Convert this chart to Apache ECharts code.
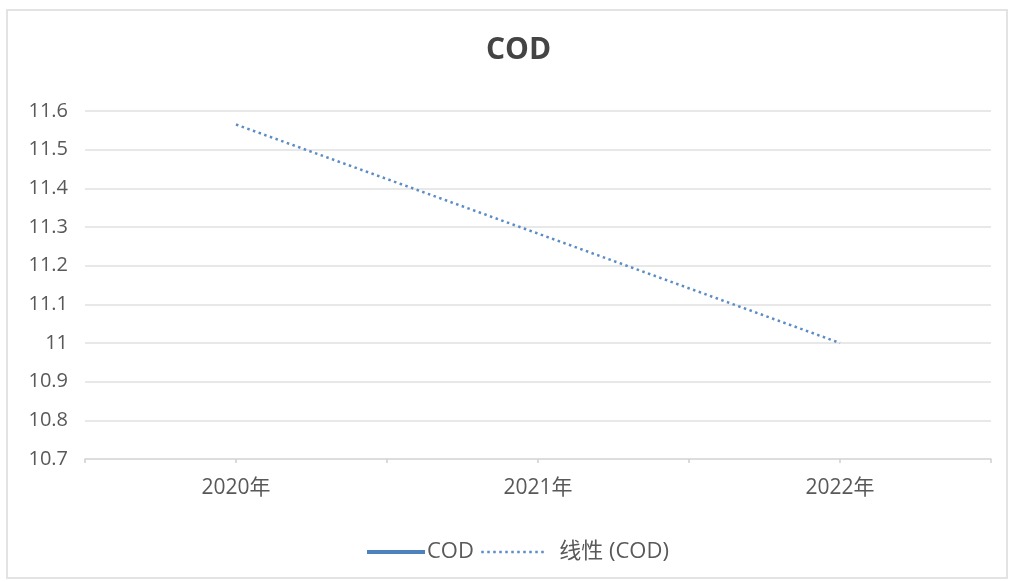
<!DOCTYPE html>
<html>
<head>
<meta charset="utf-8">
<script src="https://cdn.jsdelivr.net/npm/echarts@6/dist/echarts.min.js"></script>
<style>
html,body{margin:0;padding:0;background:#fff;}
#frame{position:absolute;left:6px;top:9px;width:1002px;height:570px;border:2px solid #e3e3e3;box-sizing:border-box;}
#c{position:absolute;left:0;top:0;width:1013px;height:582px;}
</style>
</head>
<body>
<div id="frame"></div>
<div id="c"></div>
<script>
const categories = ['2020年', '2021年', '2022年'];
const codValues = [null, null, null];
const trendValues = [11.565, 11.283, 11.0];
const tickSlots = ['', '', '', '', '', '', ''];
const yMin = 10.7, yMax = 11.6, yStep = 0.1;

const FONT = "'Open Sans', 'Noto Sans CJK SC', sans-serif";
const SOLID = '#4f81bd', TREND = '#5b8cc5';
const chart = echarts.init(document.getElementById('c'), null, {renderer: 'canvas'});
chart.setOption({
  animation: false,
  backgroundColor: 'transparent',
  title: {
    text: 'COD', left: 481, top: 30,
    textStyle: {fontFamily: FONT, fontSize: 30, fontWeight: 'bold', color: '#444444'}
  },
  legend: [{
    left: 360, top: 536,
    itemWidth: 58, itemHeight: 12,
    itemStyle: {opacity: 0},
    textStyle: {fontFamily: FONT, fontSize: 22, color: '#595959', padding: [0, 0, 0, -3]},
    data: [{name: 'COD', lineStyle: {color: SOLID, width: 4}}]
  }, {
    left: 475, top: 536,
    itemWidth: 65, itemHeight: 12,
    itemStyle: {opacity: 0},
    textStyle: {fontFamily: FONT, fontSize: 22, color: '#595959', padding: [0, 0, 0, 8]},
    data: [{name: '线性 (COD)', lineStyle: {color: TREND, width: 2.5, type: [2.5, 3.5]}}]
  }],
  grid: {left: 85, right: 22, top: 111, bottom: 123},
  xAxis: [{
    type: 'category', data: categories, boundaryGap: true,
    axisLine: {lineStyle: {color: '#d9d9d9', width: 1.5}},
    axisTick: {show: false},
    axisLabel: {fontFamily: FONT, fontSize: 21, color: '#595959', margin: 19}
  }, {
    type: 'category', data: tickSlots, boundaryGap: false, position: 'bottom',
    axisLine: {show: false},
    axisTick: {show: true, length: 4, lineStyle: {color: '#cfcfcf', width: 1.5}},
    axisLabel: {show: false}
  }],
  yAxis: {
    type: 'value', min: yMin, max: yMax, interval: yStep,
    axisLine: {show: false}, axisTick: {show: false},
    splitLine: {lineStyle: {color: '#e0e0e0', width: 1.5}},
    axisLabel: {fontFamily: FONT, fontSize: 20, color: '#595959', margin: 17,
      formatter: v => String(parseFloat(v.toFixed(1)))}
  },
  series: [{
    name: 'COD', type: 'line', data: codValues, symbol: 'none',
    lineStyle: {color: SOLID, width: 4}, itemStyle: {color: SOLID}
  }, {
    name: '线性 (COD)', type: 'line', data: trendValues, symbol: 'none',
    lineStyle: {color: TREND, width: 2.5, type: [2.5, 3.5], cap: 'butt'},
    itemStyle: {color: TREND}
  }]
});
</script>
</body>
</html>
